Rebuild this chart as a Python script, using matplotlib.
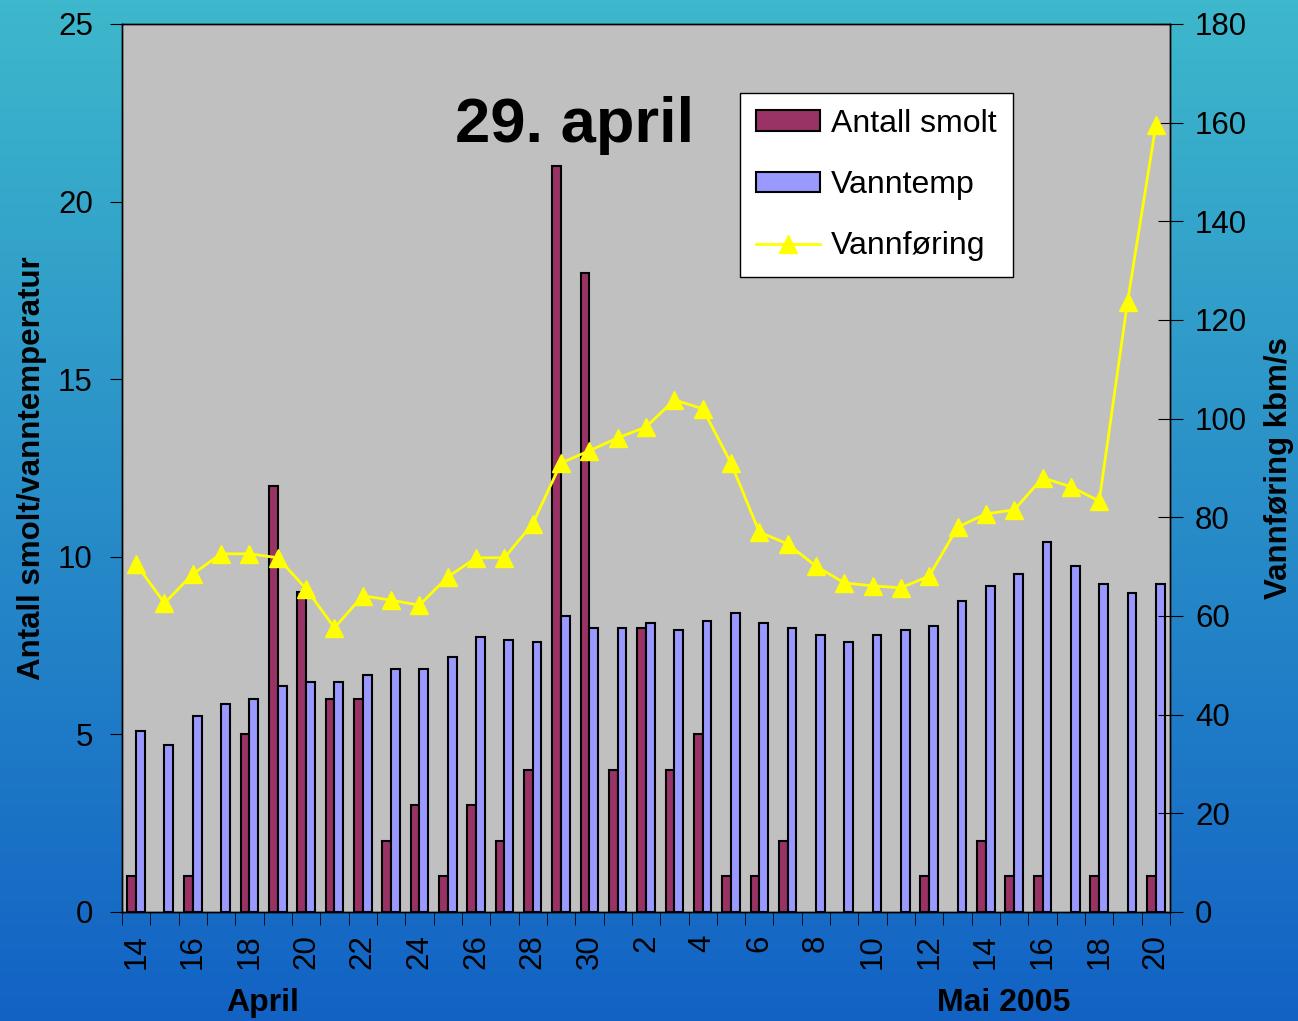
import matplotlib.pyplot as plt
import numpy as np

DAYS = ['14', '15', '16', '17', '18', '19', '20', '21', '22', '23', '24', '25', '26', '27',
        '28', '29', '30', '1', '2', '3', '4', '5', '6', '7', '8', '9', '10', '11', '12',
        '13', '14', '15', '16', '17', '18', '19', '20']
SMOLT = [1, 0, 1, 0, 5, 12, 9, 6, 6, 2, 3, 1, 3, 2, 4, 21, 18, 4, 8, 4, 5, 1, 1, 2,
         0, 0, 0, 0, 1, 0, 2, 1, 1, 0, 1, 0, 1]
TEMP = [5.1, 4.7, 5.52, 5.86, 6.0, 6.36, 6.48, 6.48, 6.67, 6.84, 6.84, 7.18, 7.74, 7.66,
        7.6, 8.33, 8.0, 8.0, 8.14, 7.94, 8.19, 8.42, 8.14, 8.0, 7.8, 7.6, 7.8, 7.94, 8.05,
        8.76, 9.18, 9.52, 10.42, 9.74, 9.23, 8.98, 9.23]
FLOW = [70.5, 62.6, 68.5, 72.6, 72.6, 71.8, 65.5, 57.6, 64.1, 63.2, 62.2, 67.9, 71.8, 71.8,
        78.7, 91.0, 93.5, 96.1, 98.3, 103.8, 102.0, 91.0, 77.0, 74.6, 70.1, 66.7, 66.1, 65.7,
        68.1, 78.0, 80.7, 81.5, 88.0, 86.2, 83.3, 123.7, 159.5]

FONT = 'Liberation Sans'
plt.rcParams['font.family'] = [FONT, 'DejaVu Sans']
TS = 22.5

fig = plt.figure(figsize=(12.98, 10.21), dpi=100)

# background gradient
bg = fig.add_axes([0, 0, 1, 1], zorder=-10)
top = np.array([62, 184, 204]) / 255.0
bot = np.array([18, 98, 196]) / 255.0
t = np.linspace(0, 1, 256)[:, None]
grad = (top * (1 - t) + bot * t)[:, None, :]
bg.imshow(grad, aspect='auto', extent=[0, 1, 0, 1])
bg.axis('off')

ax = fig.add_axes([0.094, 0.1068, 0.8074, 0.8697])
ax.set_facecolor('#c0c0c0')
x = np.arange(len(DAYS))
w = 0.31
# no outline for empty days
lw_smolt = [1.5 if v > 0 else 0 for v in SMOLT]
b1 = ax.bar(x - 0.155, SMOLT, w, color='#993366', edgecolor='black', linewidth=lw_smolt,
            label='Antall smolt', zorder=3)
b2 = ax.bar(x + 0.155, TEMP, w, color='#9999ff', edgecolor='black', linewidth=1.5,
            label='Vanntemp', zorder=3)
ax.set_xlim(-0.5, len(DAYS) - 0.5)
ax.set_ylim(0, 25)
ax.set_yticks([0, 5, 10, 15, 20, 25])
ax.tick_params(axis='y', labelsize=TS, length=9, direction='out', pad=12)
ax.set_xticks(x[::2])
ax.set_xticklabels(DAYS[::2], rotation=90)
ax.set_xticks(np.arange(len(DAYS) + 1) - 0.5, minor=True)
ax.tick_params(axis='x', which='major', length=0, labelsize=TS, pad=16)
ax.tick_params(axis='x', which='minor', length=9, direction='out')
ax.set_ylabel('Antall smolt/vanntemperatur', fontsize=22.5, fontweight='bold', labelpad=8)

ax2 = ax.twinx()
l1, = ax2.plot(x, FLOW, color='#ffff00', lw=2, marker='^', markersize=13,
               label='Vannføring', zorder=4)
ax2.set_ylim(0, 180)
ax2.set_yticks(range(0, 181, 20))
ax2.tick_params(axis='y', labelsize=TS, length=18, direction='inout', pad=9)
ax2.set_ylabel('Vannføring kbm/s', fontsize=22.5, fontweight='bold', labelpad=12)

for a in (ax, ax2):
    for s in a.spines.values():
        s.set_linewidth(1)

leg = ax2.legend([b1, b2, l1], ['Antall smolt', 'Vanntemp', 'Vannføring'],
                 loc='upper left', bbox_to_anchor=(0.5897, 0.9225), fontsize=23,
                 frameon=True, fancybox=False, edgecolor='black', framealpha=1,
                 handlelength=2.0, handleheight=0.6, labelspacing=0.98, borderpad=0.5,
                 handletextpad=0.35, borderaxespad=0)
leg.get_frame().set_linewidth(1)

fig.text(0.443, 0.877, '29. april', fontsize=45.5, fontweight='bold', ha='center', va='center')
fig.text(0.202, 0.018, 'April', fontsize=23, fontweight='bold', ha='center', va='center')
fig.text(0.773, 0.018, 'Mai 2005', fontsize=23, fontweight='bold', ha='center', va='center')

fig.savefig('out.png', dpi=100)
